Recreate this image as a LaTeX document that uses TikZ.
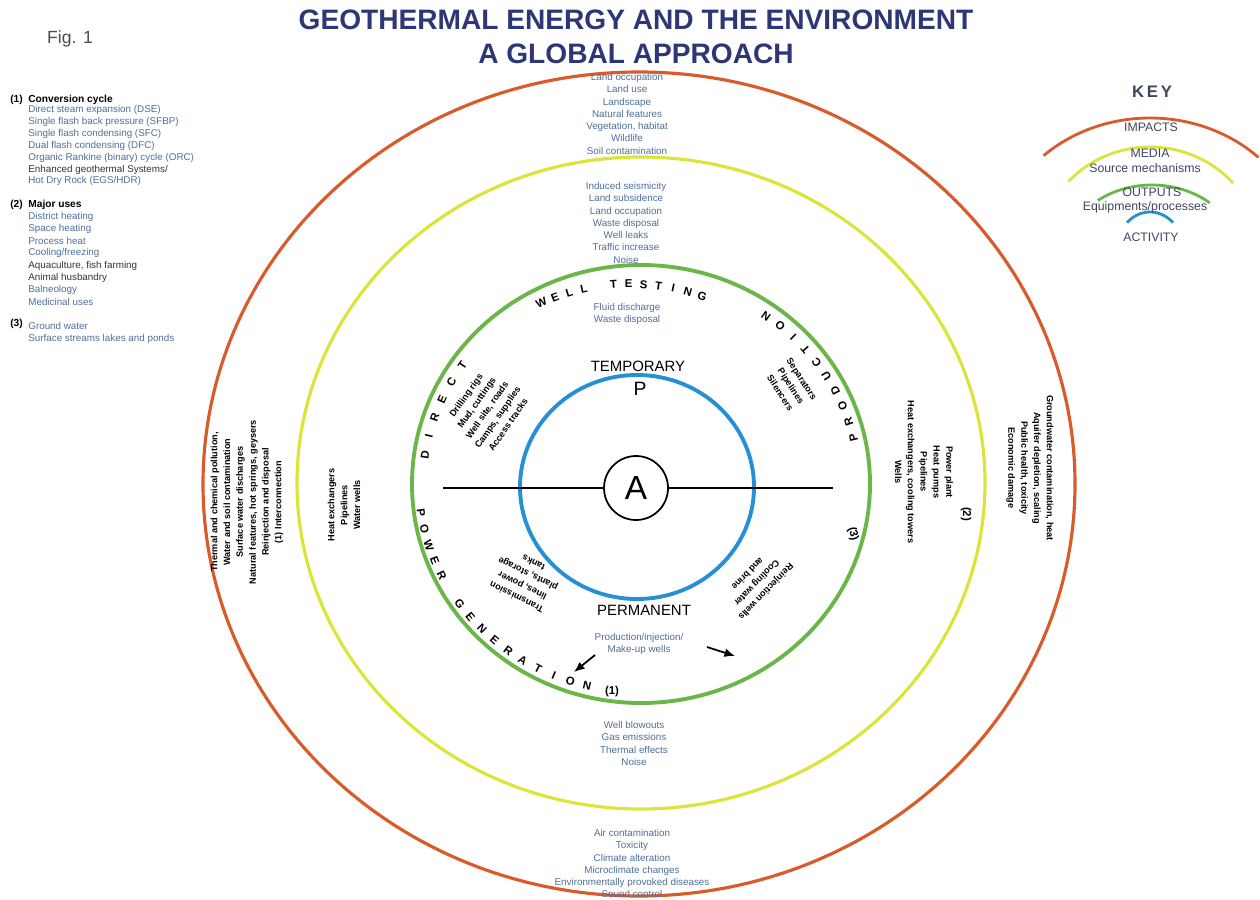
\documentclass[tikz,border=0pt]{standalone}
\usepackage{fontspec}
\setmainfont{Liberation Sans}
\usetikzlibrary{arrows.meta}
\definecolor{impactorange}{HTML}{D95A2A}
\definecolor{mediayellow}{HTML}{DCE43A}
\definecolor{outputgreen}{HTML}{6AB648}
\definecolor{activityblue}{HTML}{2590D4}
\definecolor{titlenavy}{HTML}{2E3775}
\definecolor{smallblue}{HTML}{4E6E99}
\definecolor{keygrey}{HTML}{3C4660}

\begin{document}
\begin{tikzpicture}[x=0.02cm,y=-0.02cm,
    small/.style={font=\fontsize{5.6}{7}\selectfont, text=smallblue, inner sep=0pt},
    stack/.style={small, align=center, anchor=north},
    legend/.style={small, anchor=west},
    legenddark/.style={legend, text=black!80},
    legendhead/.style={font=\fontsize{5.8}{7}\selectfont\bfseries, inner sep=0pt, anchor=west},
    block/.style={font=\fontsize{5.2}{7.3}\selectfont\bfseries, align=center, inner sep=0pt},
    arcletter/.style={font=\fontsize{6.5}{7}\selectfont\bfseries, inner sep=0pt},
    keylabel/.style={font=\fontsize{7}{8}\selectfont, text=keygrey, inner sep=0pt},
    phase/.style={font=\fontsize{8.5}{9}\selectfont, inner sep=0pt}]
  \useasboundingbox (0,0) rectangle (1260,899);

  % title
  \node[font=\fontsize{16}{19}\selectfont\bfseries, text=titlenavy, align=center] (title)
    at (636,37) {GEOTHERMAL ENERGY AND THE ENVIRONMENT\\A GLOBAL APPROACH};
  \node[font=\fontsize{10}{12}\selectfont, text=black!70] (fig) at (70,39) {Fig. 1};

  % rings
  \draw[impactorange, line width=1.8pt] (639,484) circle [x radius=436, y radius=412];
  \draw[mediayellow, line width=1.8pt] (641,483) circle [x radius=344, y radius=326];
  \draw[outputgreen, line width=2.2pt] (641,484) circle [x radius=229, y radius=219];
  \draw[activityblue, line width=2.2pt] (637,487) circle [x radius=117, y radius=112];

  % axis and activity
  \coordinate (axl) at (443,488);
  \coordinate (axr) at (833,488);
  \draw[line width=1pt] (axl) -- (axr);
  \node[circle, draw, line width=1pt, fill=white, minimum size=64*0.02cm, inner sep=0pt,
    font=\fontsize{19}{20}\selectfont] (act) at (636,488) {A};
  \node[phase] (temp) at (638,366) {TEMPORARY};
  \node[font=\fontsize{11}{12}\selectfont, inner sep=0pt] (pp) at (640,389) {P};
  \node[phase] (perm) at (644,610) {PERMANENT};

  % legend
  \node[legendhead] (n1) at (10,100) {(1)};
  \node[legendhead] (l1) at (28,100) {Conversion cycle};
  \node[legend] at (28,110) {Direct steam expansion (DSE)};
  \node[legend] at (28,122) {Single flash back pressure (SFBP)};
  \node[legend] at (28,134) {Single flash condensing (SFC)};
  \node[legend] at (28,146) {Dual flash condensing (DFC)};
  \node[legend] at (28,158) {Organic Rankine (binary) cycle (ORC)};
  \node[legenddark] at (28,170) {Enhanced geothermal Systems/};
  \node[legend] at (28,181) {Hot Dry Rock (EGS/HDR)};
  \node[legendhead] (n2) at (10,205) {(2)};
  \node[legendhead] (l2) at (28,205) {Major uses};
  \node[legend] at (28,217) {District heating};
  \node[legend] at (28,229) {Space heating};
  \node[legend] at (28,241) {Process heat};
  \node[legend] at (28,253) {Cooling/freezing};
  \node[legenddark] at (28,266) {Aquaculture, fish farming};
  \node[legenddark] at (28,278) {Animal husbandry};
  \node[legend] at (28,290) {Balneology};
  \node[legend] at (28,302) {Medicinal uses};
  \node[legendhead] (n3) at (10,324) {(3)};
  \node[legend] at (28,326) {Ground water};
  \node[legend] at (28,339) {Surface streams lakes and ponds};

  % impacts and media texts
  \node[stack] (topimp) at (627,73) {Land occupation\\Land use\\Landscape\\Natural features\\
    Vegetation, habitat\\Wildlife\\Soil contamination};
  \node[stack] (topmed) at (626,182) {Induced seismicity\\Land subsidence\\Land occupation\\
    Waste disposal\\Well leaks\\Traffic increase\\Noise};
  \node[stack] (fluid) at (627,303) {Fluid discharge\\Waste disposal};
  \node[stack] (prodinj) at (639,633) {Production/injection/\\Make-up wells};
  \node[stack] (botmed) at (634,721) {Well blowouts\\Gas emissions\\Thermal effects\\Noise};
  \node[stack] (botimp) at (632,829) {Air contamination\\Toxicity\\Climate alteration\\
    Microclimate changes\\Environmentally provoked diseases\\Sound control};

  % rotated blocks
  \node[block, rotate=-90] (rimp) at (1030,468) {Groundwater contamination, heat\\
    Aquifer depletion, scaling\\Public health, toxicity\\Economic damage};
  \node[block, rotate=-90] (rmed) at (924,472) {Power plant\\Heat pumps\\Pipelines\\
    Heat exchangers, cooling towers\\Wells};
  \node[block, rotate=90] (limp) at (247,502) {Thermal and chemical pollution,\\
    Water and soil contamination\\Surface water discharges\\
    Natural features, hot springs, geysers\\Reinjection and disposal\\(1) Interconnection};
  \node[block, rotate=90] (lmed) at (344,505) {Heat exchangers\\Pipelines\\Water wells};
  \node[block, rotate=55] (ulblk) at (487,410) {Drilling rigs\\Mud, cuttings\\
    Well site, roads\\Camps, supplies\\Access tracks};
  \node[block, rotate=-57] (urblk) at (791,386) {Separators\\Pipelines\\Silencers};
  \node[block, rotate=154] (llblk) at (525,580) {Transmission\\lines, power\\plants, storage\\tanks};
  \node[block, rotate=226] (lrblk) at (757,583) {Reinjection wells\\Cooling water\\and brine};

  % arc lettering
  \foreach \ch [count=\i from 0] in {W,E,L,L,{},T,E,S,T,I,N,G}
    \node[arcletter, rotate={115-\i*4.1-90}] at ({630+210*cos(115-\i*4.1)},{484-200*sin(115-\i*4.1)}) {\ch};
  \foreach \ch [count=\i from 0] in {P,R,O,D,U,C,T,I,O,N}
    \node[arcletter, rotate={13+\i*4.67+90}] at ({641+218*cos(13+\i*4.67)},{484-205*sin(13+\i*4.67)}) {\ch};
  \foreach \ch [count=\i from 0] in {P,O,W,E,R,{},G,E,N,E,R,A,T,I,O,N}
    \node[arcletter, rotate={188+\i*4.53+90}] at ({641+222*cos(188+\i*4.53)},{484-208*sin(188+\i*4.53)}) {\ch};
  \foreach \ch [count=\i from 0] in {D,I,R,E,C,T}
    \node[arcletter, rotate={172-\i*5.4-90}] at ({641+218*cos(172-\i*5.4)},{484-206*sin(172-\i*5.4)}) {\ch};
  \node[arcletter, rotate=0] (m1) at (612,692) {(1)};
  \node[arcletter, rotate=-90] (m2) at (966,514) {(2)};
  \node[arcletter, rotate=-75] (m3) at (853,534) {(3)};

  % arrows
  \coordinate (a1s) at (595,655);
  \coordinate (a1e) at (574,672);
  \coordinate (a2s) at (707,647);
  \coordinate (a2e) at (735,656);
  \draw[line width=1pt, -{Latex[length=6pt,width=5pt]}] (a1s) -- (a1e);
  \draw[line width=1pt, -{Latex[length=6pt,width=5pt]}] (a2s) -- (a2e);

  % key
  \node[font=\fontsize{9.5}{10}\selectfont\bfseries, text=keygrey] (key) at (1152,92) {K\,E\,Y};
  \draw[impactorange, line width=1.6pt] plot[domain=46:133, samples=40, smooth] ({1150+156*cos(\x)},{258-140*sin(\x)});
  \draw[mediayellow, line width=1.6pt] plot[domain=41:138, samples=40, smooth] ({1150+110*cos(\x)},{252-105*sin(\x)});
  \draw[outputgreen, line width=1.6pt] plot[domain=49:128, samples=40, smooth] ({1152+88*cos(\x)},{258-73*sin(\x)});
  \draw[activityblue, line width=1.6pt] plot[domain=46:134, samples=30, smooth] ({1150+33*cos(\x)},{250-38*sin(\x)});
  \node[keylabel] (kimp) at (1151,127) {IMPACTS};
  \node[keylabel] (kmed) at (1150,153) {MEDIA};
  \node[keylabel] (ksrc) at (1145,168) {Source mechanisms};
  \node[keylabel] (kout) at (1152,192) {OUTPUTS};
  \node[keylabel] (kequ) at (1145,207) {Equipments/processes};
  \node[keylabel] (kact) at (1151,237) {ACTIVITY};
\end{tikzpicture}
\end{document}
